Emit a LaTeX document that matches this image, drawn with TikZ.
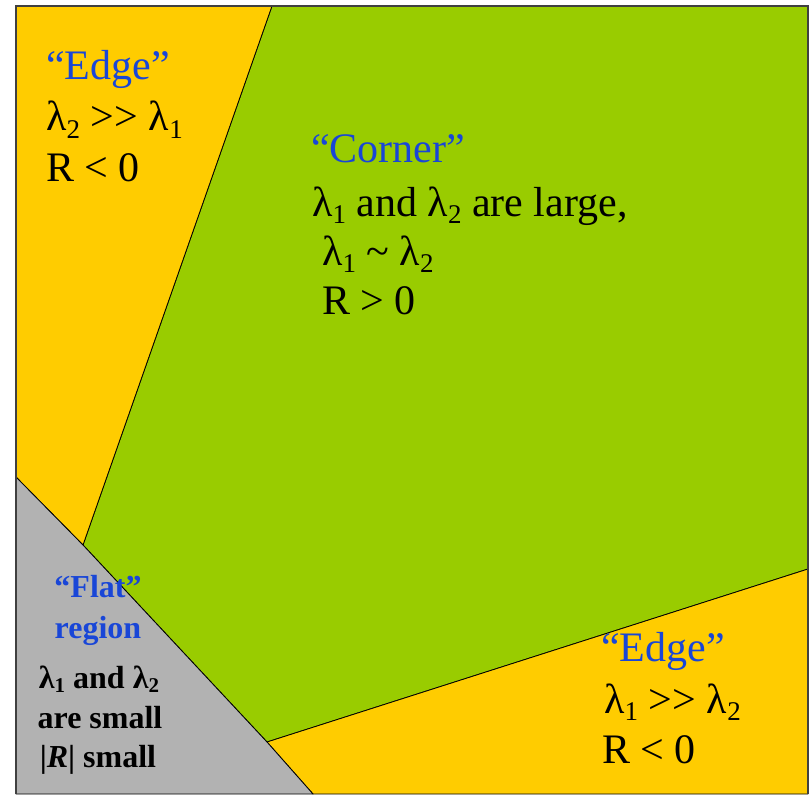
\documentclass[tikz,border=0pt]{standalone}
\usepackage{fontspec}
\setmainfont{Liberation Serif}
\definecolor{regyellow}{RGB}{255,204,0}
\definecolor{reggreen}{RGB}{153,204,0}
\definecolor{reggray}{RGB}{178,178,178}
\definecolor{labelblue}{RGB}{25,70,215}
\tikzset{
  region/.style={draw=black, line width=0.8pt, line join=round},
  frame/.style={draw=black!75, line width=1.8pt},
  bigline/.style={anchor=base west, inner sep=0pt, font=\fontsize{42}{50}\selectfont},
  flatline/.style={anchor=base, inner sep=0pt, font=\fontsize{32}{40}\selectfont\bfseries},
  heading/.style={text=labelblue},
}
\newcommand{\lam}[1]{λ\raisebox{-0.17em}{\fontsize{27}{30}\selectfont #1}}
\newcommand{\lamsm}[1]{λ\raisebox{-0.15em}{\fontsize{21}{24}\selectfont #1}}
\newcommand{\muchgt}{>\kern0.5pt>}

\begin{document}
\begin{tikzpicture}[x=1pt, y=-1pt]
\useasboundingbox (0,0) rectangle (810,794);

% regions of the (lambda_1, lambda_2) plane
\fill[white] (0,0) rectangle (810,794);
\coordinate (flattop) at (16,477);
\coordinate (flatmidA) at (83,545);
\coordinate (flatmidB) at (267,742);
\coordinate (flatbot) at (313,794);
\filldraw[region, fill=reggreen] (272,6) -- (808,6) -- (808,569) -- (flatmidB) -- (flatmidA) -- cycle;
\filldraw[region, fill=regyellow] (16,6) -- (272,6) -- (flatmidA) -- (flattop) -- cycle;
\filldraw[region, fill=regyellow] (flatmidB) -- (808,569) -- (808,794) -- (flatbot) -- cycle;
\filldraw[region, fill=reggray] (flattop) -- (flatmidA) -- (flatmidB) -- (flatbot) -- (16,794) -- cycle;
\draw[frame] (16,794) -- (16,6) -- (808,6) -- (808,794);

% edge, upper left
\node[bigline, heading] (edgeup) at (46,80) {“Edge”};
\node[bigline] (edgeuplam) at (46,131) {\lam{2} \muchgt\ \lam{1}};
\node[bigline] (edgeupR) at (46,182) {R < 0};

% corner
\node[bigline, heading] (corner) at (311,163) {“Corner”};
\node[bigline] (cornerlam) at (312,216) {\lam{1} and \lam{2} are large,};
\node[bigline] (cornersim) at (322,265) {\lam{1} \textasciitilde\ \lam{2}};
\node[bigline] (cornerR) at (322,314) {R > 0};

% edge, lower right
\node[bigline, heading] (edgelow) at (601,661) {“Edge”};
\node[bigline] (edgelowlam) at (604,713) {\lam{1} \muchgt\ \lam{2}};
\node[bigline] (edgelowR) at (602,763) {R < 0};

% flat
\node[flatline, heading] (flat) at (98,597) {“Flat”};
\node[flatline, heading] (flatreg) at (98,638) {region};
\node[flatline] (flatlam) at (99,688) {\lamsm{1} and \lamsm{2}};
\node[flatline] (flatsmall) at (100,728) {are small};
\node[flatline] (flatR) at (98,767) {|\textit{R}| small};
\end{tikzpicture}
\end{document}
